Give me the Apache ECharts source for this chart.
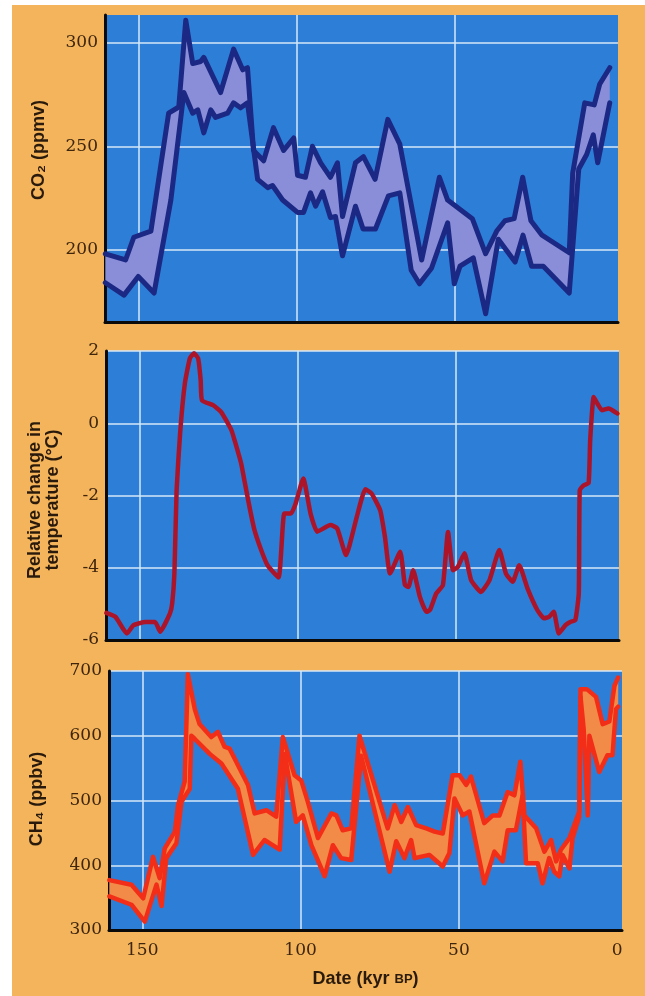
<!DOCTYPE html>
<html><head><meta charset="utf-8">
<script src="https://cdn.jsdelivr.net/npm/echarts@6/dist/echarts.min.js"></script>
<style>
html,body{margin:0;padding:0;background:#ffffff;width:645px;height:996px;overflow:hidden;}
#bg{position:absolute;left:12px;top:5px;right:0;bottom:0;background:#F3B45B;}
#chart{position:absolute;left:0;top:0;width:645px;height:996px;}
</style></head><body><div id="bg"></div><div id="chart"></div>
<script>
// ---- data: [age (kyr BP), value] ----
const ageLabels = [0, 50, 100, 150];
const ageGridTicks = [50, 100, 150];
const co2Ticks = [200, 250, 300];

const co2Upper = [[160.4,198],[154,195],[151.4,206],[146,209],[140.4,266],[137.2,269],[135,311],[132.8,290],[130.3,291],[129.3,293],[124,276],[119.9,297],[117,287],[115.5,288],[113.6,248],[110.4,243],[107.3,259],[104.1,248],[100.9,254],[99.7,236],[97.2,235],[95,250],[92.4,242],[89.3,235],[87.1,242],[85.5,216],[81.4,242],[78.9,245],[75.2,234],[71.2,263],[67.4,251],[60.5,195],[54.9,235],[52.3,224],[44.5,215],[40.3,198],[36.8,209],[34.2,214],[31.3,215],[28.6,235],[26,214],[22.5,207],[13.9,198.5],[12.8,237],[9,271],[6,270],[4.3,280],[1.1,288]];
const co2Lower = [[160.4,184],[154.5,178],[150,187],[145,179],[139.7,224],[135.6,276],[132.8,266],[131.2,267.6],[129.3,256.5],[127.1,267.6],[125.6,264],[121.8,266],[119.9,271],[117.7,268.6],[115.5,271],[112.3,234],[109.1,230],[107.6,231],[104.4,224],[99.7,218],[97.8,218],[95.6,227.5],[94,221],[91.8,228],[89.3,215.5],[87.7,216],[85.5,197],[81.4,221],[79,210],[75.1,210],[71,226],[67.4,227.5],[63.8,190],[61.2,183.5],[57.4,191],[52.3,213],[50.2,183.5],[48.4,192],[44.2,196],[40.3,169],[36.3,205],[31,194],[28.5,207],[25.8,192],[22.1,192],[13.9,179],[10.9,239],[8.4,246],[6.3,255.5],[4.9,242],[1.1,271]];

const temperature = [[160.4,-5.25],[157.5,-5.36],[153.9,-5.82],[151.8,-5.59],[148.1,-5.5],[145,-5.5],[143.4,-5.77],[140.3,-5.26],[139.6,-4.99],[138.9,-4.16],[138.2,-1.85],[137.1,-0.28],[135.6,1.1],[134,1.8],[132.7,1.94],[131.4,1.79],[130.6,1.19],[130.2,0.64],[126.7,0.5],[124.1,0.31],[120.9,-0.19],[119.9,-0.47],[117.8,-1.12],[116.8,-1.58],[115.2,-2.31],[113.6,-2.96],[111.5,-3.51],[109.5,-3.93],[106,-4.27],[104.2,-2.5],[102.1,-2.5],[100.6,-2.22],[98.2,-1.53],[95.9,-2.5],[93.8,-3.0],[89.6,-2.82],[87.5,-2.91],[84.7,-3.65],[81.3,-2.59],[78.6,-1.83],[76.6,-1.95],[73.9,-2.41],[72.4,-3.15],[70.8,-4.16],[67.6,-3.56],[66.1,-4.48],[65,-4.53],[63.5,-4.07],[61.4,-4.8],[59.3,-5.22],[58.2,-5.17],[56.2,-4.71],[54.1,-4.48],[52.5,-3.01],[50.9,-4.07],[49.4,-3.98],[47.3,-3.6],[45.2,-4.34],[42.1,-4.67],[39.4,-4.34],[36.3,-3.51],[34.2,-4.16],[32.1,-4.39],[30,-3.93],[27.4,-4.57],[24.3,-5.17],[22.2,-5.4],[20.6,-5.36],[19.1,-5.22],[17.5,-5.82],[15.4,-5.59],[13.9,-5.5],[12.3,-5.45],[11.2,-4.71],[10.9,-1.85],[9.7,-1.72],[8.1,-1.65],[7.6,-0.47],[6.5,0.73],[5.3,0.54],[3.9,0.36],[1.8,0.41],[-1,0.27]];

const ch4Upper = [[160.4,377],[153.4,370],[149.7,349],[146.6,413],[144.5,380],[142.9,426],[139.7,452],[138.7,493],[136.6,529],[135.6,695],[133.4,641],[131.9,618],[128.2,598],[126.1,606],[124,583],[122.4,580],[116.6,524],[114.5,480],[110.8,485],[107.7,475],[105.6,598],[101.9,539],[99.8,531],[97.7,498],[94.5,442],[90.3,480],[88.7,477],[86.7,454],[84,457],[81.4,600],[72.5,457],[70.3,493],[68.2,467],[66.1,490],[63.5,462],[60.3,457],[57.7,452],[55.1,449],[52,539],[49.8,539],[47.7,524],[46.2,537],[42,465],[39.3,477],[37.2,477],[34.6,513],[32.5,508],[30.6,560],[29.3,477],[25.6,457],[23,421],[20.9,439],[19.3,406],[17.8,424],[15.1,442],[12,483],[11.6,672],[9.6,672],[6.7,660],[4.6,618],[2.5,622],[0.9,677],[-0.3,690]];
const ch4Lower = [[160.4,352],[153.4,339],[149.2,313],[145.5,370],[143.9,337],[142.4,411],[139.2,434],[137.6,498],[135,518],[134.5,600],[133.4,595],[128.7,572],[125,557],[119.8,518],[115,416],[111.4,439],[106.6,424],[105,572],[101.4,467],[99.3,477],[96.6,431],[92.4,383],[89.8,431],[87.2,411],[84,408],[80.9,569],[71.9,390],[69.8,437],[67.2,411],[65.1,439],[64,411],[59.3,416],[55.1,398],[53,419],[51.4,503],[48.8,477],[46.7,483],[42,372],[38.8,421],[36.2,406],[34.6,454],[32,454],[29.9,508],[28.8,403],[25.1,403],[23.6,372],[21.5,411],[19.9,390],[18.3,383],[17.3,416],[15.1,395],[14.1,442],[12,475],[11.6,660],[10.6,610],[9.3,477],[8.8,600],[5.7,544],[3.1,570],[1.5,570],[0.4,641],[-0.3,645]];

// ---- styling ----
const PLOT_BG = '#2D7ED7';
const GRID_LINE = '#D6E8F8';
const TICK_COLOR = '#3E250C';
const TITLE_COLOR = '#2A1A0C';
const TICK_FONT = '"DejaVu Serif", serif';
const TITLE_FONT = '"Liberation Sans", "DejaVu Sans", sans-serif';

const chart = echarts.init(document.getElementById('chart'), null, {renderer: 'canvas'});

const grids = [
  {left: 105, top: 15, width: 513, height: 307},
  {left: 106, top: 351, width: 513, height: 289},
  {left: 109, top: 671, width: 513, height: 259}
].map(g => Object.assign({show: true, backgroundColor: PLOT_BG, borderWidth: 0, containLabel: false}, g));

function xAxis(i, showLabels) {
  return {
    type: 'value', gridIndex: i, min: -1.5, max: 160.5, inverse: true,
    axisLine: {show: true, onZero: false, lineStyle: {color: '#0a0a0a', width: 3}},
    axisTick: {show: false, customValues: ageGridTicks},
    axisLabel: {show: showLabels, customValues: ageLabels, margin: 12, color: TICK_COLOR,
      fontFamily: TICK_FONT, fontSize: 17},
    splitLine: {show: true, lineStyle: {color: GRID_LINE, width: 1.5}},
    name: showLabels ? 'Date (kyr {sc|BP})' : '',
    nameLocation: 'middle', nameGap: 40,
    nameTextStyle: {color: TITLE_COLOR, fontFamily: TITLE_FONT, fontWeight: 'bold', fontSize: 18,
      rich: {sc: {color: TITLE_COLOR, fontFamily: TITLE_FONT, fontWeight: 'bold', fontSize: 13}}}
  };
}
function yAxis(i, extra) {
  return Object.assign({
    type: 'value', gridIndex: i,
    axisLine: {show: true, onZero: false, lineStyle: {color: '#0a0a0a', width: 3}},
    axisTick: {show: false},
    axisLabel: {margin: 7, color: TICK_COLOR, fontFamily: TICK_FONT, fontSize: 17},
    splitLine: {show: true, lineStyle: {color: GRID_LINE, width: 1.5}}
  }, extra);
}

function band(upper, lower, idx, fill) {
  return {
    type: 'custom', xAxisIndex: idx, yAxisIndex: idx, silent: true, clip: true, z: 2,
    data: [[0, 0]],
    renderItem: function (params, api) {
      const pts = upper.map(p => api.coord(p)).concat(lower.slice().reverse().map(p => api.coord(p)));
      return {type: 'polygon', shape: {points: pts}, style: {fill: fill, stroke: null}};
    }
  };
}
function outline(data, idx, color, width, smooth) {
  return {
    type: 'line', xAxisIndex: idx, yAxisIndex: idx, data: data, showSymbol: false, silent: true,
    smooth: smooth || false, clip: true, z: 3,
    lineStyle: {color: color, width: width, join: 'round', cap: 'round'}
  };
}

const CO2_LINE = '#1B2884', CO2_FILL = '#8A8ED8';
const TEMP_LINE = '#AC1529';
const CH4_LINE = '#F22E18', CH4_FILL = '#F28A48';

chart.setOption({
  animation: false,
  grid: grids,
  xAxis: [xAxis(0, false), xAxis(1, false), xAxis(2, true)],
  yAxis: [
    yAxis(0, {min: 165, max: 313.5, axisTick: {show: false, customValues: co2Ticks},
      axisLabel: {margin: 7, color: TICK_COLOR, fontFamily: TICK_FONT, fontSize: 17, customValues: co2Ticks}}),
    yAxis(1, {min: -6, max: 2, interval: 2}),
    yAxis(2, {min: 300, max: 700, interval: 100})
  ],
  graphic: [
    {type: 'text', x: 39, y: 150, rotation: Math.PI / 2,
      style: {text: 'CO₂ (ppmv)', fill: TITLE_COLOR, font: 'bold 18px ' + TITLE_FONT, align: 'center', verticalAlign: 'middle'}},
    {type: 'text', x: 44, y: 500, rotation: Math.PI / 2,
      style: {text: 'Relative change in\ntemperature (°C)', fill: TITLE_COLOR, font: 'bold 18px ' + TITLE_FONT,
        align: 'center', verticalAlign: 'middle', lineHeight: 18}},
    {type: 'text', x: 37, y: 799, rotation: Math.PI / 2,
      style: {text: 'CH₄ (ppbv)', fill: TITLE_COLOR, font: 'bold 18px ' + TITLE_FONT, align: 'center', verticalAlign: 'middle'}}
  ],
  series: [
    band(co2Upper, co2Lower, 0, CO2_FILL),
    outline(co2Upper, 0, CO2_LINE, 5),
    outline(co2Lower, 0, CO2_LINE, 5),
    outline(temperature, 1, TEMP_LINE, 4.5, 0.15),
    band(ch4Upper, ch4Lower, 2, CH4_FILL),
    outline(ch4Upper, 2, CH4_LINE, 4.5),
    outline(ch4Lower, 2, CH4_LINE, 4.5)
  ]
});
</script></body></html>
